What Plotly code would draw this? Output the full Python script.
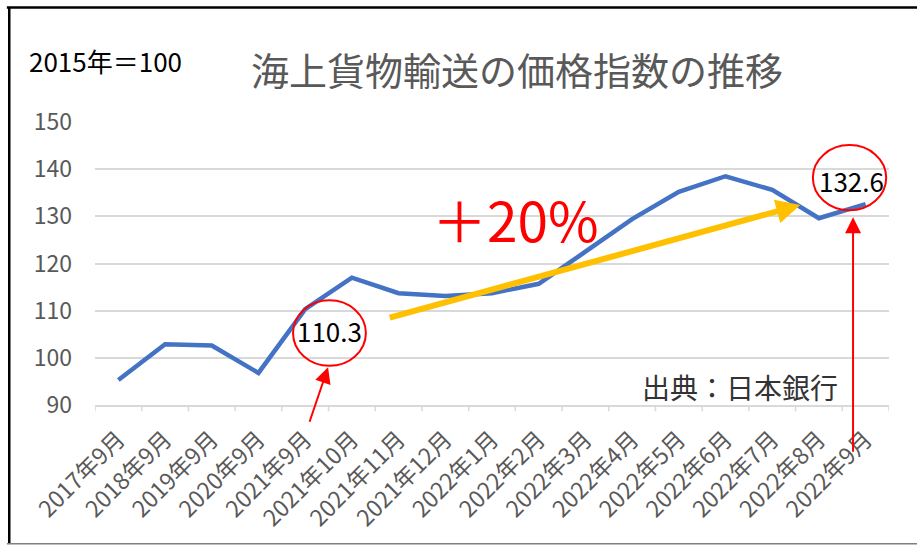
import plotly.graph_objects as go

# 海上貨物輸送の価格指数 (2015年=100)
months = ["2017年9月", "2018年9月", "2019年9月", "2020年9月", "2021年9月",
          "2021年10月", "2021年11月", "2021年12月", "2022年1月", "2022年2月",
          "2022年3月", "2022年4月", "2022年5月", "2022年6月", "2022年7月",
          "2022年8月", "2022年9月"]
index_values = [95.3, 102.9, 102.6, 96.8, 110.3, 117.0, 113.7, 113.1, 113.7,
                115.7, 122.5, 129.4, 135.2, 138.5, 135.6, 129.6, 132.6]
y_ticks = [90, 100, 110, 120, 130, 140, 150]

JP = "Noto Sans CJK JP"
GRID = "#D9D9D9"

fig = go.Figure()

fig.add_trace(go.Scatter(
    x=list(range(len(months))),
    y=index_values,
    mode="lines",
    line=dict(color="#4472C4", width=4.5),
    hoverinfo="skip",
    showlegend=False,
))

# callouts for the first and last value
first_i, last_i = 4, len(months) - 1
fig.add_annotation(x=first_i + 0.53, y=index_values[first_i] - 4.6,
                   text=f"{index_values[first_i]}", showarrow=False,
                   font=dict(family=JP, size=26, color="black"))
fig.add_annotation(x=last_i - 0.31, y=index_values[last_i] + 5.0,
                   text=f"{index_values[last_i]}", showarrow=False,
                   font=dict(family=JP, size=26, color="black"))
fig.add_shape(type="circle", xref="x", yref="y",
              x0=3.74, x1=5.30, y0=98.3, y1=112.2,
              line=dict(color="red", width=2))
fig.add_shape(type="circle", xref="x", yref="y",
              x0=14.87, x1=16.44, y0=131.3, y1=145.1,
              line=dict(color="red", width=2))

# red pointer arrows
fig.add_annotation(x=4.49, y=98.0, ax=-19, ay=56, text="", showarrow=True,
                   arrowhead=2, arrowsize=1.6, arrowwidth=2, arrowcolor="red")
fig.add_annotation(x=15.73, y=129.8, ax=0, ay=236, text="", showarrow=True,
                   arrowhead=2, arrowsize=1.6, arrowwidth=2, arrowcolor="red")

# yellow trend arrow and +20%
fig.add_annotation(x=14.6, y=132.4, ax=-412, ay=113, text="", showarrow=True,
                   arrowhead=2, arrowsize=0.8, arrowwidth=6, arrowcolor="#FFC000")
fig.add_annotation(x=8.5, y=129.6, text="＋20%", showarrow=False,
                   font=dict(family=JP, size=55, color="red"))

# title, unit and source
fig.add_annotation(xref="paper", yref="paper", x=0.531, y=1.19,
                   text="海上貨物輸送の価格指数の推移", showarrow=False,
                   xanchor="center", yanchor="middle",
                   font=dict(family=JP, size=38, color="#595959"))
fig.add_annotation(xref="paper", yref="paper", x=-0.086, y=1.218,
                   text="2015年＝100", showarrow=False,
                   xanchor="left", yanchor="middle",
                   font=dict(family=JP, size=26, color="black"))
fig.add_annotation(xref="paper", yref="paper", x=0.686, y=0.0635,
                   text="出典：日本銀行", showarrow=False,
                   xanchor="left", yanchor="middle",
                   font=dict(family=JP, size=28, color="#333333"))

# frame of the chart
fig.add_shape(type="line", xref="paper", yref="paper",
              x0=-0.111, x1=1.2, y0=1.405, y1=1.405,
              line=dict(color="black", width=2.5))
fig.add_shape(type="line", xref="paper", yref="paper",
              x0=-0.108, x1=-0.108, y0=-0.49, y1=1.405,
              line=dict(color="black", width=2.5))
fig.add_shape(type="line", xref="paper", yref="paper",
              x0=-0.111, x1=1.2, y0=-0.49, y1=-0.49,
              line=dict(color="#808080", width=1.5))

fig.update_layout(
    width=917, height=546,
    margin=dict(l=95, r=28, t=122, b=141),
    plot_bgcolor="white",
    paper_bgcolor="white",
    showlegend=False,
    xaxis=dict(
        type="linear",
        range=[-0.5, len(months) - 0.5],
        tickmode="array",
        tickvals=list(range(len(months))),
        ticktext=months,
        tickangle=-45,
        showgrid=False,
        showline=True, linecolor=GRID, linewidth=1.5,
        ticks="", ticklabelstandoff=10,
        tickfont=dict(family=JP, size=23, color="#595959"),
        zeroline=False,
        automargin=False,
    ),
    yaxis=dict(
        range=[90, 150],
        tickvals=y_ticks,
        showgrid=True, gridcolor=GRID, gridwidth=1.5,
        zeroline=False,
        ticklabelstandoff=22,
        tickfont=dict(family=JP, size=23, color="#595959"),
        automargin=False,
    ),
)

# tick marks sit on category boundaries
for b in range(len(months) + 1):
    fig.add_shape(type="line", xref="x", yref="paper",
                  x0=b - 0.5, x1=b - 0.5, y0=0, y1=-0.022,
                  line=dict(color=GRID, width=1.5))

# drop the browser's default page margin so the chart sits at (0, 0)
fig.write_html("out.html", config={"displayModeBar": False},
               post_script="document.body.style.margin='0';")
